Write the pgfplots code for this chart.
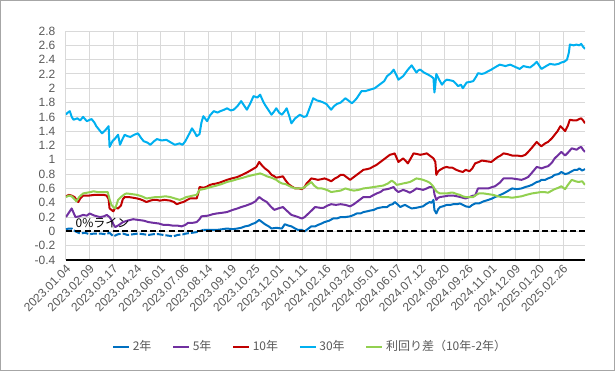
\documentclass[border=0pt]{standalone}
\usepackage{fontspec}
\setmainfont{Liberation Sans}
\newfontfamily\jp{Noto Sans CJK JP}
\usepackage{pgfplots}
\pgfplotsset{compat=1.18}
\definecolor{cTwo}{HTML}{0070C0}
\definecolor{cFive}{HTML}{7030A0}
\definecolor{cTen}{HTML}{C00000}
\definecolor{cThirty}{HTML}{00B0F0}
\definecolor{cSpread}{HTML}{92D050}
\definecolor{gridc}{HTML}{D9D9D9}
\definecolor{txt}{HTML}{595959}
\begin{document}
\begin{tikzpicture}
\useasboundingbox (0,0) rectangle (461.25pt,278.25pt);
\draw[color=black!35, line width=0.75pt] (0.375pt,0.375pt) rectangle (460.875pt,277.875pt);
\begin{axis}[
  at={(49.5pt,83.25pt)}, anchor=south west,
  scale only axis, width=389.25pt, height=171.75pt,
  xmin=0, xmax=548, ymin=-0.4, ymax=2.8,
  axis lines*=left,
  x axis line style={black, line width=1pt},
  y axis line style={draw=none},
  major tick length=0pt,
  grid=major,
  major grid style={gridc, line width=0.75pt},
  ytick={-0.4,-0.2,0,0.2,0.4,0.6,0.8,1,1.2,1.4,1.6,1.8,2,2.2,2.4,2.6,2.8},
  yticklabel style={font=\fontsize{9}{10}\selectfont, text=txt, xshift=-4.5pt},
  /pgf/number format/assume math mode=true,
  /pgf/number format/.cd, fixed, precision=1, /pgfplots/.cd,
  xtick={0,25,...,525},
  xticklabels={2023.01.04,2023.02.09,2023.03.17,2023.04.24,2023.06.01,2023.07.06,2023.08.14,2023.09.19,2023.10.25,2023.12.01,2024.01.11,2024.02.16,2024.03.26,2024.05.01,2024.06.07,2024.07.12,2024.08.20,2024.09.26,2024.11.01,2024.12.09,2025.01.20,2025.02.26},
  xticklabel style={font=\fontsize{9}{10}\selectfont, text=txt, rotate=45, anchor=east, yshift=-5pt, xshift=1pt},
  legend style={at={(0.4711,-0.379)}, anchor=center, draw=none, fill=none,
    font=\fontsize{9}{10}\selectfont, text=txt,
    /tikz/every even column/.append style={column sep=13.5pt}},
  legend columns=-1,
  legend image code/.code={\draw[#1, line width=1.5pt] (0pt,0pt) -- (12pt,0pt);},
  every axis plot/.append style={line width=1.5pt, line join=round},
]
% 2Y early (gappy)
\addplot[cTwo, dash pattern=on 5pt off 1.5pt, forget plot] coordinates {
(0,0.03)(3,0.04)(6,0.04)(10,0.00)(15,-0.03)(20,-0.02)(25,-0.04)(30,-0.03)(36,-0.03)(42,-0.04)(46,-0.02)(50,-0.07)(55,-0.04)(60,-0.03)(65,-0.05)(71,-0.04)(76,-0.03)(82,-0.04)(87,-0.05)(92,-0.04)(98,-0.04)(103,-0.05)(108,-0.06)(113,-0.07)(118,-0.05)(124,-0.04)(127,-0.03)(133,-0.02)(138,-0.01)(145,0.02)
};
\addplot[cTwo] coordinates {
(145,0.02)(152,0.02)(159,0.02)(165,0.03)(170,0.04)(176,0.03)(181,0.04)(185,0.05)(189,0.07)(193,0.08)(196,0.10)(200,0.12)(204,0.16)(207,0.13)(210,0.10)(214,0.07)(217,0.04)(222,0.05)(228,0.04)(231,0.10)(235,0.08)(238,0.07)(242,0.04)(245,0.02)(249,0.02)(252,0.00)(256,0.04)(259,0.07)(263,0.07)(266,0.09)(270,0.11)(273,0.13)(278,0.15)(282,0.18)(286,0.18)(290,0.20)(295,0.20)(300,0.21)(304,0.23)(307,0.25)(311,0.25)(314,0.27)(318,0.28)(321,0.29)(325,0.30)(328,0.32)(331,0.33)(335,0.34)(339,0.34)(342,0.37)(345,0.38)(347,0.41)(350,0.38)(353,0.34)(356,0.36)(358,0.37)(362,0.34)(365,0.32)(370,0.33)(377,0.35)(380,0.38)(384,0.41)(386,0.40)(388,0.44)(389,0.30)(391,0.25)(393,0.31)(395,0.34)(398,0.35)(402,0.37)(406,0.37)(409,0.38)(413,0.38)(416,0.39)(419,0.37)(422,0.35)(426,0.34)(429,0.37)(432,0.39)(436,0.39)(441,0.42)(446,0.44)(450,0.46)(453,0.48)(457,0.50)(462,0.53)(466,0.56)(471,0.60)(476,0.59)(481,0.60)(485,0.62)(488,0.63)(492,0.65)(497,0.69)(500,0.70)(502,0.72)(506,0.72)(509,0.74)(513,0.76)(516,0.79)(520,0.80)(523,0.83)(527,0.80)(530,0.81)(534,0.84)(537,0.86)(540,0.86)(542,0.88)(545,0.85)(548,0.87)
};
\addlegendentry{\jp 2年}
% 5Y
\addplot[cFive] coordinates {
(0,0.20)(3,0.26)(6,0.32)(8,0.26)(10,0.20)(14,0.21)(18,0.23)(22,0.22)(25,0.25)(30,0.22)(36,0.20)(40,0.21)(43,0.23)(46,0.20)(48,0.16)(50,0.10)(52,0.06)(56,0.09)(60,0.13)(65,0.15)(71,0.17)(76,0.16)(82,0.15)(87,0.13)(92,0.12)(98,0.11)(103,0.09)(108,0.09)(113,0.08)(118,0.08)(122,0.07)(126,0.09)(129,0.12)(134,0.12)(138,0.13)(141,0.17)(143,0.21)(150,0.22)(155,0.24)(159,0.25)(165,0.26)(170,0.27)(176,0.30)(181,0.32)(185,0.34)(190,0.36)(196,0.39)(200,0.42)(204,0.48)(208,0.44)(212,0.41)(216,0.35)(220,0.30)(224,0.32)(229,0.34)(233,0.29)(238,0.23)(243,0.21)(249,0.18)(252,0.20)(256,0.25)(260,0.30)(263,0.34)(268,0.33)(272,0.33)(276,0.36)(280,0.38)(285,0.37)(290,0.38)(295,0.37)(300,0.35)(304,0.38)(307,0.41)(311,0.45)(314,0.48)(318,0.48)(321,0.48)(325,0.51)(328,0.53)(332,0.55)(335,0.58)(339,0.59)(342,0.60)(346,0.62)(348,0.58)(351,0.55)(356,0.58)(360,0.56)(363,0.54)(367,0.57)(370,0.60)(374,0.59)(377,0.58)(381,0.60)(384,0.62)(388,0.62)(389,0.52)(391,0.44)(393,0.47)(395,0.48)(400,0.49)(404,0.50)(409,0.50)(413,0.49)(416,0.48)(419,0.47)(422,0.46)(426,0.48)(430,0.50)(432,0.50)(435,0.60)(440,0.60)(446,0.60)(450,0.62)(453,0.63)(458,0.68)(462,0.74)(467,0.74)(471,0.74)(476,0.73)(481,0.72)(485,0.74)(488,0.76)(492,0.82)(497,0.90)(500,0.89)(502,0.88)(506,0.90)(509,0.91)(513,0.96)(516,1.02)(520,1.07)(523,1.11)(527,1.06)(530,1.10)(534,1.16)(537,1.15)(539,1.14)(542,1.17)(544,1.18)(546,1.14)(548,1.11)
};
\addlegendentry{\jp 5年}
% 10Y
\addplot[cTen] coordinates {
(0,0.49)(3,0.51)(6,0.50)(9,0.48)(11,0.44)(13,0.41)(15,0.46)(18,0.50)(24,0.50)(30,0.51)(36,0.51)(40,0.51)(43,0.50)(45,0.45)(46,0.32)(48,0.30)(50,0.28)(52,0.33)(55,0.32)(58,0.36)(60,0.45)(62,0.48)(66,0.48)(71,0.47)(75,0.46)(78,0.45)(82,0.43)(85,0.41)(89,0.43)(92,0.44)(96,0.44)(99,0.43)(104,0.44)(110,0.43)(114,0.41)(117,0.38)(121,0.40)(124,0.41)(128,0.44)(131,0.46)(135,0.46)(138,0.46)(140,0.55)(141,0.62)(145,0.61)(148,0.62)(152,0.65)(155,0.66)(159,0.67)(162,0.68)(166,0.70)(170,0.72)(175,0.74)(181,0.76)(186,0.79)(192,0.83)(196,0.86)(201,0.90)(204,0.97)(207,0.92)(210,0.88)(214,0.84)(217,0.79)(220,0.77)(222,0.75)(226,0.76)(229,0.77)(232,0.71)(235,0.66)(238,0.63)(242,0.60)(246,0.60)(249,0.59)(252,0.62)(254,0.67)(257,0.71)(259,0.74)(263,0.73)(266,0.72)(270,0.73)(273,0.74)(277,0.72)(280,0.70)(284,0.74)(287,0.76)(290,0.79)(293,0.79)(297,0.75)(300,0.72)(304,0.76)(307,0.79)(311,0.83)(314,0.86)(318,0.87)(321,0.88)(325,0.91)(328,0.93)(332,0.97)(335,1.00)(339,1.04)(342,1.07)(345,1.08)(347,1.09)(349,1.03)(351,0.97)(354,1.00)(356,1.02)(359,0.98)(361,0.95)(364,1.02)(367,1.09)(371,1.08)(374,1.07)(378,1.08)(381,1.09)(384,1.06)(386,1.04)(388,1.02)(390,0.97)(391,0.79)(393,0.84)(395,0.86)(399,0.89)(402,0.90)(405,0.89)(408,0.89)(412,0.86)(416,0.84)(419,0.83)(422,0.86)(426,0.84)(429,0.88)(432,0.95)(436,0.97)(439,0.99)(444,0.98)(449,0.97)(453,1.01)(456,1.04)(459,1.06)(462,1.09)(466,1.08)(471,1.06)(476,1.06)(481,1.05)(485,1.07)(488,1.11)(492,1.17)(497,1.25)(500,1.21)(502,1.19)(506,1.23)(509,1.25)(513,1.30)(516,1.35)(519,1.40)(522,1.47)(525,1.43)(527,1.40)(530,1.48)(532,1.56)(536,1.55)(539,1.55)(542,1.57)(544,1.58)(546,1.55)(548,1.51)
};
\addlegendentry{\jp 10年}
% 30Y
\addplot[cThirty] coordinates {
(0,1.63)(1,1.65)(4,1.68)(6,1.60)(8,1.56)(12,1.58)(15,1.55)(18,1.60)(22,1.54)(27,1.57)(30,1.52)(32,1.47)(35,1.42)(38,1.37)(42,1.42)(45,1.47)(46,1.18)(49,1.26)(52,1.30)(55,1.35)(57,1.21)(60,1.30)(62,1.35)(65,1.33)(68,1.32)(72,1.35)(76,1.37)(79,1.31)(82,1.26)(86,1.24)(89,1.21)(93,1.26)(96,1.29)(101,1.27)(106,1.28)(111,1.24)(115,1.21)(120,1.23)(123,1.21)(126,1.26)(130,1.36)(133,1.44)(136,1.38)(138,1.33)(141,1.36)(143,1.52)(145,1.61)(149,1.54)(152,1.62)(156,1.68)(160,1.66)(163,1.68)(167,1.70)(170,1.72)(174,1.69)(177,1.70)(181,1.75)(185,1.82)(188,1.76)(191,1.70)(195,1.80)(198,1.89)(202,1.87)(205,1.91)(208,1.82)(210,1.77)(214,1.69)(217,1.63)(220,1.68)(222,1.72)(225,1.66)(228,1.63)(231,1.68)(233,1.72)(236,1.60)(238,1.51)(242,1.58)(247,1.63)(251,1.60)(254,1.61)(258,1.75)(261,1.86)(265,1.83)(268,1.82)(272,1.80)(275,1.78)(278,1.73)(280,1.70)(283,1.75)(286,1.78)(290,1.80)(295,1.86)(299,1.82)(302,1.79)(305,1.83)(307,1.86)(310,1.92)(312,1.96)(316,1.96)(321,1.98)(326,2.00)(330,2.04)(333,2.07)(336,2.10)(339,2.17)(343,2.21)(346,2.26)(349,2.18)(351,2.12)(354,2.15)(356,2.17)(361,2.26)(365,2.32)(368,2.26)(370,2.22)(372,2.25)(374,2.26)(378,2.22)(381,2.20)(385,2.17)(388,2.14)(389,1.94)(390,2.05)(391,2.20)(394,2.12)(397,2.05)(400,2.10)(402,2.12)(406,2.11)(409,2.10)(412,2.06)(414,2.03)(417,2.05)(419,2.00)(421,2.04)(423,2.08)(427,2.09)(430,2.10)(433,2.16)(435,2.21)(439,2.20)(442,2.21)(446,2.24)(449,2.26)(454,2.30)(458,2.33)(464,2.31)(469,2.33)(474,2.30)(479,2.27)(483,2.31)(486,2.30)(490,2.29)(494,2.33)(497,2.37)(500,2.31)(502,2.27)(507,2.31)(511,2.34)(516,2.33)(520,2.34)(523,2.36)(526,2.37)(529,2.40)(531,2.50)(532,2.61)(536,2.60)(539,2.61)(542,2.60)(544,2.62)(546,2.58)(548,2.55)
};
\addlegendentry{\jp 30年}
% Spread
\addplot[cSpread] coordinates {
(0,0.48)(3,0.50)(6,0.49)(9,0.45)(11,0.42)(14,0.48)(18,0.53)(22,0.54)(26,0.55)(29,0.56)(33,0.55)(39,0.55)(44,0.55)(46,0.45)(48,0.37)(50,0.34)(52,0.32)(55,0.44)(58,0.48)(62,0.52)(64,0.53)(70,0.52)(75,0.51)(80,0.49)(85,0.46)(90,0.47)(95,0.48)(99,0.48)(105,0.49)(110,0.48)(115,0.46)(120,0.44)(124,0.46)(127,0.48)(131,0.49)(134,0.50)(138,0.51)(141,0.58)(145,0.59)(148,0.60)(153,0.62)(159,0.64)(164,0.66)(170,0.69)(176,0.71)(181,0.73)(187,0.75)(192,0.77)(198,0.79)(202,0.80)(205,0.81)(209,0.79)(212,0.77)(217,0.75)(222,0.72)(225,0.69)(228,0.67)(232,0.66)(235,0.64)(238,0.62)(242,0.60)(245,0.60)(249,0.60)(252,0.62)(256,0.66)(259,0.69)(262,0.64)(266,0.60)(270,0.60)(273,0.59)(277,0.57)(280,0.55)(285,0.56)(290,0.57)(295,0.60)(300,0.58)(304,0.57)(309,0.58)(314,0.60)(320,0.61)(325,0.62)(330,0.63)(335,0.64)(340,0.67)(344,0.71)(347,0.68)(349,0.65)(353,0.66)(356,0.67)(360,0.68)(363,0.69)(366,0.71)(370,0.74)(374,0.73)(377,0.72)(381,0.70)(384,0.68)(387,0.64)(390,0.58)(392,0.55)(395,0.53)(399,0.53)(402,0.53)(406,0.54)(409,0.54)(413,0.52)(416,0.51)(419,0.49)(422,0.48)(426,0.48)(430,0.48)(433,0.51)(436,0.53)(441,0.53)(446,0.52)(451,0.51)(456,0.49)(460,0.48)(466,0.48)(471,0.47)(476,0.48)(481,0.49)(486,0.51)(492,0.53)(497,0.54)(502,0.55)(505,0.55)(509,0.54)(513,0.57)(516,0.59)(520,0.61)(523,0.63)(525,0.61)(527,0.59)(530,0.65)(534,0.72)(538,0.70)(541,0.69)(545,0.70)(548,0.65)
};
\addlegendentry{\jp 利回り差（10年-2年）}
% 0% line
\addplot[black, line width=1.5pt, dash pattern=on 4.5pt off 2.5pt, forget plot] coordinates {(0,0) (548,0)};
\node[font=\jp\fontsize{9}{10}\selectfont, text=black, anchor=west, inner sep=0pt] at (axis cs:10,0.116) {0\%ライン};
\end{axis}
\end{tikzpicture}
\end{document}
